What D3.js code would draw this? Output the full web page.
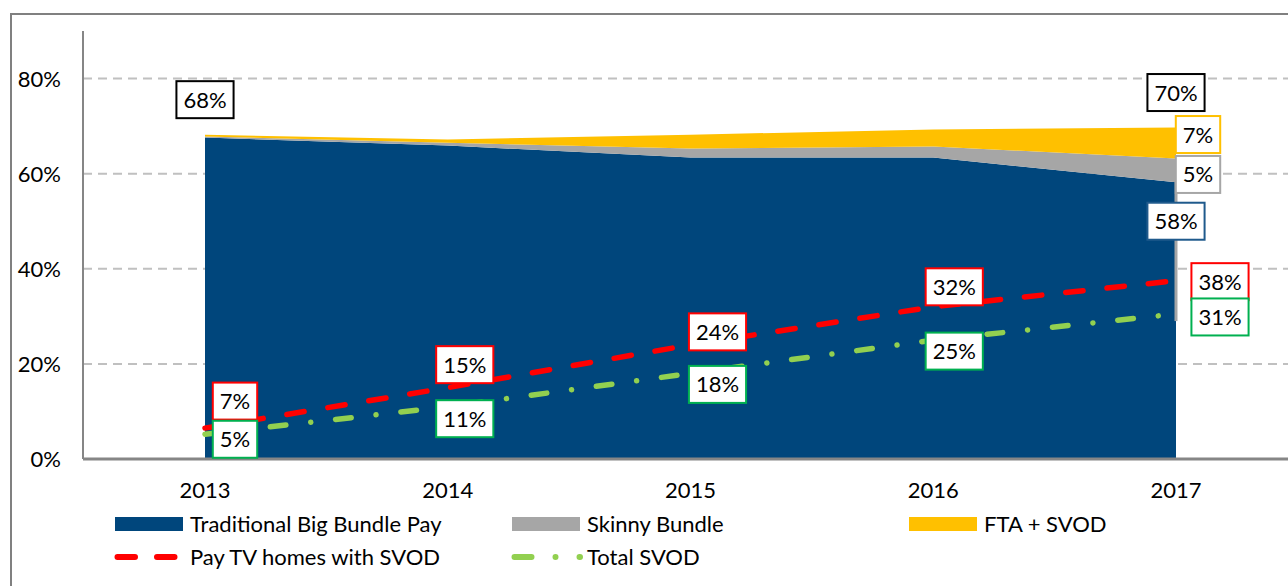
<!DOCTYPE html>
<html>
<head>
<meta charset="utf-8">
<script src="https://cdn.jsdelivr.net/npm/d3@7"></script>
<style>
  body { margin: 0; background: #fff; }
  svg { display: block; font-family: Lato, "Liberation Sans", sans-serif; }
</style>
</head>
<body>
<div id="chart"></div>
<script>
// values (percent of homes)
const years = ["2013", "2014", "2015", "2016", "2017"];
const bigBundle = [67.6, 65.9, 63.4, 63.4, 58.2];
const skinnyBundle = [0.2, 0.6, 1.9, 2.3, 5.0];
const ftaSvod = [0.4, 0.7, 2.9, 3.6, 6.5];
const payTvSvod = [6.5, 15, 24, 32, 37.5];
const totalSvod = [5.2, 11, 18, 25, 30.5];
const yTicks = [0, 20, 40, 60, 80];

const seriesNames = ["Traditional Big Bundle Pay", "Skinny Bundle", "FTA + SVOD"];
const areaColors = ["#00467C", "#A6A6A6", "#FFC000"];

const width = 1288, height = 586;
const fontSize = 22;
const svg = d3.select("#chart").append("svg")
    .attr("width", width)
    .attr("height", height);

// outer frame
svg.append("rect")
    .attr("x", 11).attr("y", 14)
    .attr("width", 1300).attr("height", 600)
    .attr("fill", "none")
    .attr("stroke", "#808080")
    .attr("stroke-width", 2);

const x = d3.scalePoint().domain(years).range([205, 1176]);
const y = d3.scaleLinear().domain([0, 90]).range([459, 31]);
const plotLeft = 83, plotRight = 1300;

// gridlines
svg.append("g")
    .selectAll("line")
    .data(yTicks.filter(d => d > 0))
    .join("line")
    .attr("x1", plotLeft).attr("x2", plotRight)
    .attr("y1", d => y(d)).attr("y2", d => y(d))
    .attr("stroke", "#C0C0C0")
    .attr("stroke-width", 2)
    .attr("stroke-dasharray", "9,6");

// stacked areas
const table = years.map((yr, i) => ({
    year: yr, big: bigBundle[i], skinny: skinnyBundle[i], fta: ftaSvod[i]
}));
const stack = d3.stack().keys(["big", "skinny", "fta"]);
const layers = stack(table);

const area = d3.area()
    .x(d => x(d.data.year))
    .y0(d => y(d[0]))
    .y1(d => y(d[1]));

svg.append("g")
    .selectAll("path")
    .data(layers)
    .join("path")
    .attr("d", area)
    .attr("fill", (d, i) => areaColors[i]);

// thin gray edge on the right of the areas
svg.append("line")
    .attr("x1", x("2017")).attr("x2", x("2017"))
    .attr("y1", y(bigBundle[4])).attr("y2", y(29))
    .attr("stroke", "#A6A6A6")
    .attr("stroke-width", 3);

// y axis
svg.append("line")
    .attr("x1", plotLeft).attr("x2", plotLeft)
    .attr("y1", y(90)).attr("y2", y(0))
    .attr("stroke", "#868686")
    .attr("stroke-width", 2);

svg.append("g")
    .selectAll("text")
    .data(yTicks)
    .join("text")
    .attr("x", 61)
    .attr("y", d => y(d) + 8)
    .attr("text-anchor", "end")
    .attr("font-size", fontSize)
    .attr("fill", "#000")
    .text(d => d + "%");

// lines
const line = d3.line()
    .x((d, i) => x(years[i]))
    .y(d => y(d));

svg.append("path")
    .datum(payTvSvod)
    .attr("d", line)
    .attr("fill", "none")
    .attr("stroke", "#FF0000")
    .attr("stroke-width", 5.5)
    .attr("stroke-linecap", "round")
    .attr("stroke-dasharray", "17.5,24");

svg.append("path")
    .datum(totalSvod)
    .attr("d", line)
    .attr("fill", "none")
    .attr("stroke", "#92D050")
    .attr("stroke-width", 5.5)
    .attr("stroke-linecap", "round")
    .attr("stroke-dasharray", "15.7,25,0.01,25");

// x axis
svg.append("line")
    .attr("x1", plotLeft).attr("x2", plotRight)
    .attr("y1", y(0)).attr("y2", y(0))
    .attr("stroke", "#868686")
    .attr("stroke-width", 3);

svg.append("g")
    .selectAll("text")
    .data(years)
    .join("text")
    .attr("x", d => x(d))
    .attr("y", 498)
    .attr("text-anchor", "middle")
    .attr("font-size", fontSize)
    .text(d => d);

// data labels (white boxes)
function addLabel(cx, cy, txt, color) {
    const g = svg.append("g");
    const t = g.append("text")
        .attr("x", cx).attr("y", cy + 8)
        .attr("text-anchor", "middle")
        .attr("font-size", fontSize)
        .text(txt);
    const w = t.node().getComputedTextLength() + 14;
    g.insert("rect", "text")
        .attr("x", cx - w / 2).attr("y", cy - 18.5)
        .attr("width", w).attr("height", 37)
        .attr("fill", "#fff")
        .attr("stroke", color)
        .attr("stroke-width", 2);
}

const fmt = v => Math.round(v) + "%";
const totals = years.map((yr, i) => bigBundle[i] + skinnyBundle[i] + ftaSvod[i]);

// totals at first and last year
addLabel(x("2013"), y(totals[0]) - 35, fmt(totals[0]), "#000");
addLabel(x("2017"), y(totals[4]) - 35, fmt(totals[4]), "#000");
// stacked parts at 2017
addLabel(x("2017") + 22, y(totals[4]) + 7, fmt(ftaSvod[4]), "#FFC000");
addLabel(x("2017") + 22, y(bigBundle[4] + skinnyBundle[4]) + 16, fmt(skinnyBundle[4]), "#A6A6A6");
addLabel(x("2017"), y(bigBundle[4]) + 39, fmt(bigBundle[4]), "#1F5A8C");

// line labels
const redDx = [30, 17, 27, 21, 44];
const redDy = [-27, -23, -13, -20, 1];
const greenDx = [30, 17, 27, 21, 44];
const greenDy = [5, 12, 11, 11, 3];
years.forEach((yr, i) => {
    addLabel(x(yr) + redDx[i], y(payTvSvod[i]) + redDy[i], fmt(payTvSvod[i]), "#FF0000");
    addLabel(x(yr) + greenDx[i], y(totalSvod[i]) + greenDy[i], fmt(totalSvod[i]), "#00B050");
});

// legend
const legendCols = [115, 512, 909];
const legend = svg.append("g");
seriesNames.forEach((name, i) => {
    legend.append("rect")
        .attr("x", legendCols[i]).attr("y", 517)
        .attr("width", 68).attr("height", 14)
        .attr("fill", areaColors[i]);
    legend.append("text")
        .attr("x", legendCols[i] + 75).attr("y", 532)
        .attr("font-size", fontSize)
        .text(name);
});

legend.append("line")
    .attr("x1", legendCols[0] + 2.5).attr("x2", legendCols[0] + 66)
    .attr("y1", 557).attr("y2", 557)
    .attr("stroke", "#FF0000")
    .attr("stroke-width", 6)
    .attr("stroke-linecap", "round")
    .attr("stroke-dasharray", "17.5,22");
legend.append("text")
    .attr("x", legendCols[0] + 75).attr("y", 565)
    .attr("font-size", fontSize)
    .text("Pay TV homes with SVOD");

legend.append("line")
    .attr("x1", legendCols[1] + 2.5).attr("x2", legendCols[1] + 68)
    .attr("y1", 557).attr("y2", 557)
    .attr("stroke", "#92D050")
    .attr("stroke-width", 6)
    .attr("stroke-linecap", "round")
    .attr("stroke-dasharray", "17,24,0.01,24");
legend.append("text")
    .attr("x", legendCols[1] + 75).attr("y", 565)
    .attr("font-size", fontSize)
    .text("Total SVOD");
</script>
</body>
</html>
